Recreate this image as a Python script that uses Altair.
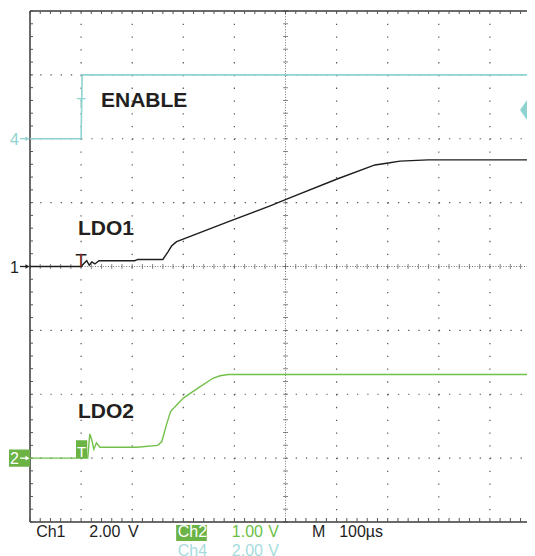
import altair as alt
import pandas as pd

# ---------------- data ----------------
# time in microseconds (trigger at 0, 100 us/div); vertical position in scope divisions (centre = 0)
T_MIN, T_MAX = -100, 872.6
enable_t = [-100, 0, 2, 872.6]
enable_v = [2.0, 2.0, 3.0, 3.0]

ldo1_t = [-100, 0, 6, 11, 16, 21, 27, 35, 105, 111, 160, 170, 177, 184, 187, 291, 370, 401, 501, 575, 601, 624, 679, 872.6]
ldo1_v = [0.0, 0.0, 0.05, 0.09, 0.02, 0.07, 0.04, 0.09, 0.09, 0.11, 0.11, 0.23, 0.32, 0.37, 0.39, 0.71, 0.95, 1.05, 1.37, 1.59, 1.62, 1.65, 1.67, 1.67]

ldo2_t = [-100, 0, 13, 17, 21, 25, 30, 37, 109, 150, 158, 167, 175, 187, 200, 233, 258, 272, 288, 872.6]
ldo2_v = [-3.0, -3.0, -3.0, -2.62, -2.72, -2.86, -2.76, -2.83, -2.83, -2.80, -2.74, -2.48, -2.27, -2.17, -2.06, -1.88, -1.75, -1.71, -1.69, -1.69]

trace_labels = ["ENABLE", "LDO1", "LDO2"]
label_t = [39, -6, -6]
label_v = [2.49, 0.49, -2.37]

grid_t = [0, 100, 200, 300, 500, 600, 700, 800]
grid_v = [-3, -2, -1, 1, 2, 3]
centre_t = 400
centre_v = 0

marker_digit = ["4", "1", "2"]
marker_v = [2.0, 0.0, -3.0]
marker_color = ["#8fd2d2", "#1e1e1e", "#ffffff"]

footer1 = ["Ch1", "2.00", "V", "Ch2", "1.00", "V", "M", "100\u00b5s"]
footer1_t = [-88, 16, 92, 189, 295, 366, 452, 505]
footer1_color = ["#1e1e1e", "#1e1e1e", "#1e1e1e", "#ffffff", "#6cbf45", "#6cbf45", "#1e1e1e", "#1e1e1e"]
footer2 = ["Ch4", "2.00", "V"]
footer2_t = [189, 295, 366]

CYAN = "#8fd2d2"
GREEN = "#72c04a"
GREEN_BOX = "#6ab344"
BLACK = "#1e1e1e"
FONT = "Liberation Sans, Arial, sans-serif"

# ---------------- scales ----------------
xs = alt.Scale(domain=[T_MIN, T_MAX], nice=False, zero=False)
ys = alt.Scale(domain=[-4, 4], nice=False, zero=False)


def X(f="t"):
    return alt.X(f, type="quantitative", scale=xs, axis=None)


def Y(f="v"):
    return alt.Y(f, type="quantitative", scale=ys, axis=None)


minor_t = [-100 + 20 * k for k in range(49)]
minor_v = [round(-4 + 0.2 * k, 2) for k in range(41)]

# ---------------- grid ----------------
vgrid = alt.Chart(pd.DataFrame({"t": grid_t, "v": [4] * len(grid_t), "v2": [-4] * len(grid_t)})).mark_rule(
    color="#555555", strokeWidth=1.2, strokeDash=[1.3, 11.47]
).encode(x=X(), y=Y(), y2=alt.Y2("v2"))

hgrid = alt.Chart(pd.DataFrame({"v": grid_v, "t": [T_MIN] * len(grid_v), "t2": [T_MAX] * len(grid_v)})).mark_rule(
    color="#555555", strokeWidth=1.2, strokeDash=[1.3, 8.92]
).encode(y=Y(), x=X(), x2=alt.X2("t2"))

cv = alt.Chart(pd.DataFrame({"t": [centre_t], "v": [4], "v2": [-4]})).mark_rule(
    color="#777777", strokeWidth=1, strokeDash=[1, 1.6]
).encode(x=X(), y=Y(), y2=alt.Y2("v2"))

ch = alt.Chart(pd.DataFrame({"v": [centre_v], "t": [T_MIN], "t2": [T_MAX]})).mark_rule(
    color="#777777", strokeWidth=1, strokeDash=[1, 1.6]
).encode(y=Y(), x=X(), x2=alt.X2("t2"))

cv_ticks = alt.Chart(pd.DataFrame({"v": minor_v, "t": [centre_t] * len(minor_v)})).mark_tick(
    orient="horizontal", size=5, thickness=1, color="#555555"
).encode(x=X(), y=Y())

ch_ticks = alt.Chart(pd.DataFrame({"t": minor_t, "v": [centre_v] * len(minor_t)})).mark_tick(
    orient="vertical", size=5, thickness=1, color="#555555"
).encode(x=X(), y=Y())

# ---------------- frame ----------------
frame_left = alt.Chart(pd.DataFrame({"t": [T_MIN], "v": [4], "v2": [-4]})).mark_rule(
    color="#3a3a3a", strokeWidth=1.5
).encode(x=X(), y=Y(), y2=alt.Y2("v2"))
frame_tb = alt.Chart(pd.DataFrame({"v": [4, -4], "t": [T_MIN, T_MIN], "t2": [T_MAX, T_MAX]})).mark_rule(
    color="#3a3a3a", strokeWidth=1.5
).encode(y=Y(), x=X(), x2=alt.X2("t2"))

top_ticks = alt.Chart(pd.DataFrame({"t": minor_t})).mark_rule(color="#555555", strokeWidth=1).encode(
    x=X(), y=alt.value(0), y2=alt.value(3)
)
bottom_ticks = alt.Chart(pd.DataFrame({"t": minor_t})).mark_rule(color="#555555", strokeWidth=1).encode(
    x=X(), y=alt.value(511), y2=alt.value(507)
)
left_ticks = alt.Chart(pd.DataFrame({"v": minor_v})).mark_rule(color="#555555", strokeWidth=1).encode(
    y=Y(), x=alt.value(0), x2=alt.value(3)
)

# ---------------- traces ----------------
def trace(ts, vs, color, width):
    df = pd.DataFrame({"t": ts, "v": vs, "i": list(range(len(ts)))})
    return alt.Chart(df).mark_line(color=color, strokeWidth=width, interpolate="linear").encode(
        x=X(), y=Y(), order=alt.Order("i:Q")
    )


enable_line = trace(enable_t, enable_v, CYAN, 1.6)
ldo1_line = trace(ldo1_t, ldo1_v, BLACK, 1.4)
ldo2_line = trace(ldo2_t, ldo2_v, GREEN, 1.4)

# ---------------- labels ----------------
labels = alt.Chart(pd.DataFrame({"t": label_t, "v": label_v, "label": trace_labels})).mark_text(
    font=FONT, fontSize=21, fontWeight="bold", align="left",
    baseline="alphabetic", color="#231f20"
).encode(x=X(), y=Y(), text="label:N")

# channel ground markers at the left edge
marker_box = alt.Chart(pd.DataFrame({"v": [marker_v[2] + 0.135], "v2": [marker_v[2] - 0.135]})).mark_rect(
    color=GREEN_BOX
).encode(x=alt.value(-21), x2=alt.value(0), y=Y(), y2=alt.Y2("v2"))

mdf = pd.DataFrame({"v": marker_v, "label": marker_digit, "c": marker_color})
marker_digits = alt.Chart(mdf).mark_text(
    font=FONT, fontSize=16, align="right", baseline="middle", dy=1
).encode(x=alt.value(-11), y=Y(), text="label:N", color=alt.Color("c:N", scale=None))
marker_shafts = alt.Chart(mdf).mark_rule(strokeWidth=1.3).encode(
    x=alt.value(-10), x2=alt.value(-3), y=Y(), color=alt.Color("c:N", scale=None)
)
marker_heads = alt.Chart(mdf).mark_point(
    shape="triangle-right", filled=True, size=22, opacity=1
).encode(x=alt.value(-2.5), y=Y(), color=alt.Color("c:N", scale=None))

# trigger markers
t_box = alt.Chart(pd.DataFrame({"t": [-10], "t2": [12], "v": [-2.72], "v2": [-3.0]})).mark_rect(
    color=GREEN_BOX
).encode(x=X(), x2=alt.X2("t2"), y=Y(), y2=alt.Y2("v2"))

t_marks = alt.Chart(pd.DataFrame({
    "t": [0, 0, 1], "v": [2.48, 0.0, -2.98], "label": ["T", "T", "T"],
    "c": [CYAN, BLACK, "#ffffff"], "s": [15, 19, 15]
})).mark_text(font=FONT, align="center", baseline="alphabetic").encode(
    x=X(), y=Y(), text="label:N", color=alt.Color("c:N", scale=None), size=alt.Size("s:Q", scale=None)
)

red_stem = alt.Chart(pd.DataFrame({"t": [0], "v": [0.0], "v2": [0.2]})).mark_rule(
    color="#d23a3a", strokeWidth=1
).encode(x=X(), y=Y(), y2=alt.Y2("v2"))

# trigger level marker on right edge
diamond = alt.Chart(pd.DataFrame({"t": [T_MAX], "v": [2.45]})).mark_point(
    shape="M-0.7,0L0,-1L0.7,0L0,1Z", filled=True, size=400, opacity=1, color=CYAN
).encode(x=X(), y=Y())

# ---------------- footer ----------------
ch2_box = alt.Chart(pd.DataFrame({"t": [186], "t2": [246]})).mark_rect(color=GREEN_BOX).encode(
    x=X(), x2=alt.X2("t2"), y=alt.value(514), y2=alt.value(530)
)

footer_row1 = alt.Chart(pd.DataFrame({"t": footer1_t, "label": footer1, "c": footer1_color})).mark_text(
    font=FONT, fontSize=16, align="left", baseline="alphabetic"
).encode(x=X(), y=alt.value(526), text="label:N", color=alt.Color("c:N", scale=None))

footer_row2 = alt.Chart(pd.DataFrame({"t": footer2_t, "label": footer2})).mark_text(
    font=FONT, fontSize=16, align="left", baseline="alphabetic",
    color="#a6dcdc"
).encode(x=X(), y=alt.value(545), text="label:N")

chart = alt.layer(
    vgrid, hgrid, cv, ch, cv_ticks, ch_ticks,
    frame_left, frame_tb, top_ticks, bottom_ticks, left_ticks,
    enable_line, ldo2_line, ldo1_line,
    t_box, t_marks, red_stem, diamond,
    labels, marker_box, marker_shafts, marker_heads, marker_digits,
    ch2_box, footer_row1, footer_row2,
).properties(
    width=497, height=511,
    autosize=alt.AutoSizeParams(type="none"),
    padding={"left": 22, "top": 3, "right": 0, "bottom": 34},
    background="white",
).configure_view(stroke=None)

chart.save("out.html", embed_options={"renderer": "svg", "actions": False})
